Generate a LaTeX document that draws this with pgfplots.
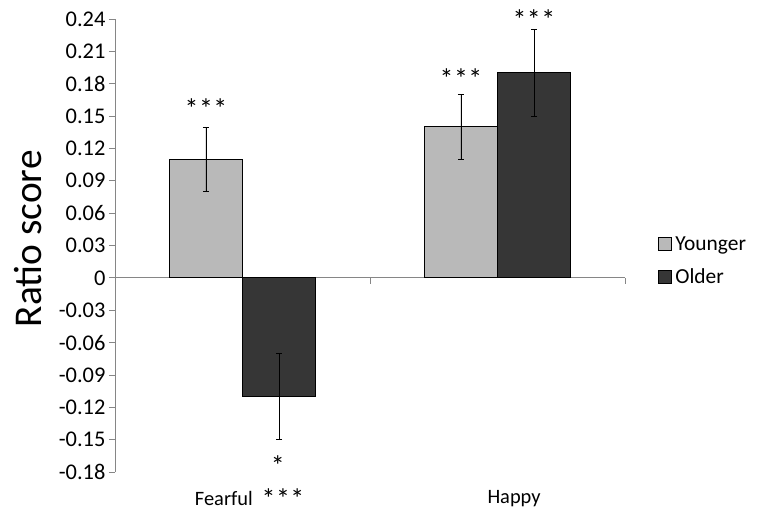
\documentclass[border=0pt]{standalone}
\usepackage{fontspec}
\setmainfont{Carlito}
\usepackage{pgfplots}
\pgfplotsset{compat=1.18}
\definecolor{younger}{RGB}{185,185,185}
\definecolor{older}{RGB}{54,54,54}
\definecolor{axisgray}{RGB}{134,134,134}
\newcommand{\tickfont}{\fontsize{22.5}{26}\selectfont}
\newcommand{\starfont}{\fontsize{28}{30}\selectfont}
\newcommand{\stars}{*\kern0.5bp*\kern0.5bp*}

\begin{document}
\begin{tikzpicture}

\begin{axis}[
at={(0,0)}, anchor=south west,
scale only axis,
width=510bp, height=453bp,
xmin=-0.5, xmax=1.5,
ymin=-0.18, ymax=0.24,
axis y line*=left,
axis x line*=middle,
axis line style={axisgray, line width=0.8bp},
tick style={axisgray, line width=0.8bp},
major tick length=6bp,
tick align=outside,
xtick={-0.5,0.5,1.5},
xticklabels={,,},
ytick={-0.18,-0.15,-0.12,-0.09,-0.06,-0.03,0,0.03,0.06,0.09,0.12,0.15,0.18,0.21,0.24},
yticklabels={-0.18,-0.15,-0.12,-0.09,-0.06,-0.03,0,0.03,0.06,0.09,0.12,0.15,0.18,0.21,0.24},
yticklabel style={font=\tickfont},
ybar=0pt,
bar width=0.2863,
clip=false,
legend style={at={(axis description cs:1.065,0.466)}, anchor=west,
  draw=none, fill=none, font=\fontsize{21.5}{24}\selectfont,
  row sep=13bp, inner sep=0pt,
  /tikz/every odd column/.append style={column sep=1bp}},
legend cell align=left,
legend image code/.code={\draw[#1] (0bp,-6.5bp) rectangle (13bp,6.5bp);},
]

% Younger
\addplot[fill=younger, draw=black, line width=1bp,
  error bars/.cd, y dir=both, y explicit,
  error bar style={black, line width=0.6bp},
  error mark options={rotate=90, black, mark size=3bp, line width=0.6bp}]
coordinates {(0,0.11) +- (0,0.03) (1,0.14) +- (0,0.03)};
\addlegendentry{Younger}

% Older
\addplot[fill=older, draw=black, line width=1bp,
  error bars/.cd, y dir=both, y explicit,
  error bar style={black, line width=0.6bp},
  error mark options={rotate=90, black, mark size=3bp, line width=0.6bp}]
coordinates {(0,-0.11) +- (0,0.04) (1,0.19) +- (0,0.04)};
\addlegendentry{Older}

% significance marks
\node[font=\starfont] at (axis cs:-0.143,0.157) {\stars};
\node[font=\starfont] at (axis cs:0.857,0.185) {\stars};
\node[font=\starfont] at (axis cs:1.143,0.239) {\stars};
\node[font=\starfont] at (axis cs:0.139,-0.174) {*};

% category labels
\node[font=\fontsize{20.5}{24}\selectfont] at (axis cs:-0.073,-0.205) {Fearful};
\node[font=\starfont] at (axis cs:0.159,-0.205) {\stars};
\node[font=\fontsize{20.5}{24}\selectfont] at (axis cs:1.065,-0.205) {Happy};

% axis title
\node[rotate=90, font=\fontsize{39.5}{42}\selectfont] at (axis description cs:-0.17,0.515) {Ratio score};

\end{axis}

\pgfresetboundingbox
\path (-115bp,-49bp) rectangle (647bp,472bp);

\end{tikzpicture}
\end{document}
